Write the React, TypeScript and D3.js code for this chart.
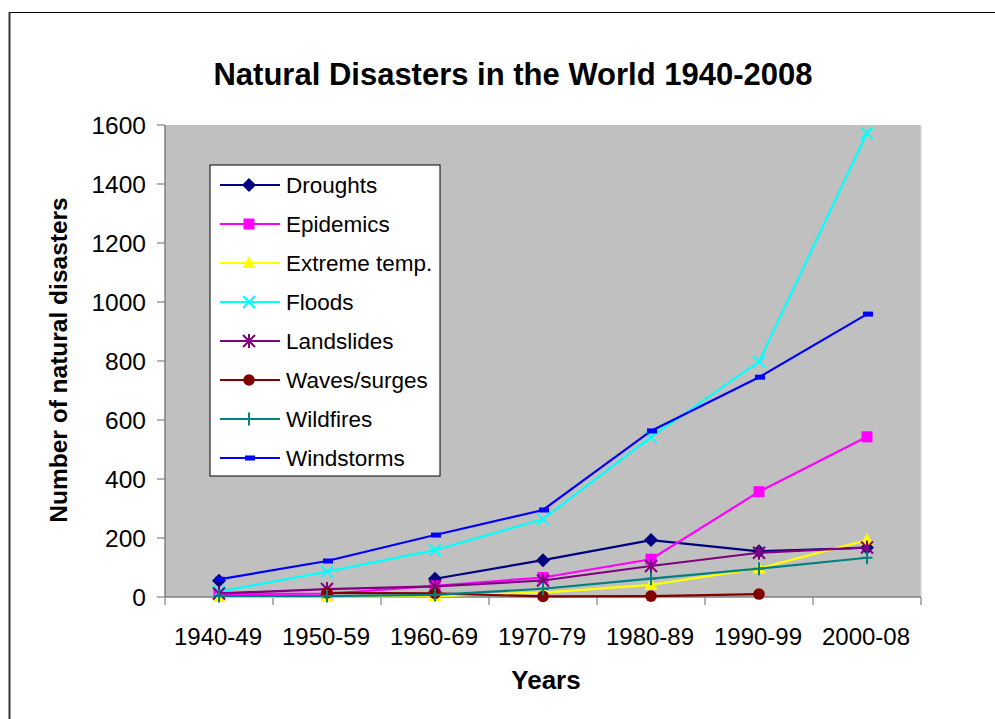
import React from "react";
import * as d3 from "d3";

// Decades on the x axis
const categories = ["1940-49", "1950-59", "1960-69", "1970-79", "1980-89", "1990-99", "2000-08"];

// Series values (null = no point)
const droughts = [55, null, 62, 125, 193, 155, 167];
const epidemics = [10, 11, 38, 66, 128, 357, 543];
const extremeTemp = [0, 1, 3, 15, 41, 97, 193];
const floods = [18, 86, 159, 264, 542, 798, 1573];
const landslides = [12, 27, 36, 56, 105, 150, 168];
const wavesSurges = [null, 14, 12, 2, 3, 10, null];
const wildfires = [3, 3, 7, 28, 62, 96, 133];
const windstorms = [60, 122, 210, 295, 563, 745, 959];

const yTicks = [0, 200, 400, 600, 800, 1000, 1200, 1400, 1600];

type Marker = "diamond" | "square" | "triangle" | "x" | "star" | "circle" | "plus" | "dash";

interface Series {
	name: string;
	values: (number | null)[];
	color: string;
	marker: Marker;
}

const series: Series[] = [
	{ name: "Droughts", values: droughts, color: "#000080", marker: "diamond" },
	{ name: "Epidemics", values: epidemics, color: "#FF00FF", marker: "square" },
	{ name: "Extreme temp.", values: extremeTemp, color: "#FFFF00", marker: "triangle" },
	{ name: "Floods", values: floods, color: "#00FFFF", marker: "x" },
	{ name: "Landslides", values: landslides, color: "#800080", marker: "star" },
	{ name: "Waves/surges", values: wavesSurges, color: "#800000", marker: "circle" },
	{ name: "Wildfires", values: wildfires, color: "#008080", marker: "plus" },
	{ name: "Windstorms", values: windstorms, color: "#0000FF", marker: "dash" },
];

const WIDTH = 995;
const HEIGHT = 719;
const plot = { left: 165, right: 921, top: 125, bottom: 597 };
const FONT = "'Liberation Sans', Arial, sans-serif";

const MarkerShape: React.FC<{ type: Marker; x: number; y: number; color: string }> = ({ type, x, y, color }) => {
	const r = 6;
	switch (type) {
		case "diamond":
			return <path d={`M${x},${y - 7}L${x + 7},${y}L${x},${y + 7}L${x - 7},${y}Z`} fill={color} />;
		case "square":
			return <rect x={x - 5.5} y={y - 5.5} width={11} height={11} fill={color} />;
		case "triangle":
			return <path d={`M${x},${y - 7}L${x + 6.5},${y + 5}L${x - 6.5},${y + 5}Z`} fill={color} />;
		case "x":
			return (
				<path
					d={`M${x - r},${y - r}L${x + r},${y + r}M${x - r},${y + r}L${x + r},${y - r}`}
					stroke={color}
					strokeWidth={2}
				/>
			);
		case "star":
			return (
				<path
					d={`M${x - r},${y - r}L${x + r},${y + r}M${x - r},${y + r}L${x + r},${y - r}M${x},${y - r - 1}L${x},${y + r + 1}`}
					stroke={color}
					strokeWidth={2}
				/>
			);
		case "circle":
			return <circle cx={x} cy={y} r={5.8} fill={color} />;
		case "plus":
			return (
				<path
					d={`M${x},${y - 6.5}L${x},${y + 6.5}M${x - 5.5},${y}L${x + 5.5},${y}`}
					stroke={color}
					strokeWidth={2}
				/>
			);
		case "dash":
			return <rect x={x - 4} y={y - 2.5} width={10} height={5} fill={color} />;
	}
	return null;
};

const App: React.FC = () => {
	const xScale = d3
		.scaleBand<string>()
		.domain(categories)
		.range([plot.left, plot.right])
		.paddingInner(0)
		.paddingOuter(0);

	const yScale = d3.scaleLinear().domain([0, 1600]).range([plot.bottom, plot.top]);

	const cx = (i: number) => (xScale(categories[i]) as number) + xScale.bandwidth() / 2;

	const line = d3
		.line<number | null>()
		.defined((d) => d !== null)
		.x((_, i) => cx(i))
		.y((d) => yScale(d as number));

	const bandEdges = [...categories.map((c) => xScale(c) as number), plot.right];

	const legend = { x: 210, y: 165, w: 230, h: 311, row: 39 };

	return (
		<div style={{ position: "absolute", left: 0, top: 0 }}>
			<svg width={WIDTH} height={HEIGHT} style={{ display: "block", fontFamily: FONT }}>
				<rect x={0} y={0} width={WIDTH} height={HEIGHT} fill="#FFFFFF" />
				{/* outer chart border */}
				<line x1={9} y1={12.5} x2={WIDTH} y2={12.5} stroke="#000" strokeWidth={1.2} />
				<line x1={9.5} y1={12} x2={9.5} y2={HEIGHT} stroke="#333" strokeWidth={2} />

				{/* title */}
				<text x={513} y={85} textAnchor="middle" fontSize={31} fontWeight="bold" fill="#000">
					Natural Disasters in the World 1940-2008
				</text>

				{/* plot area */}
				<rect
					x={plot.left}
					y={plot.top}
					width={plot.right - plot.left}
					height={plot.bottom - plot.top}
					fill="#C0C0C0"
				/>
				<line x1={plot.right} y1={plot.top} x2={plot.right} y2={plot.bottom} stroke="#D8D8D8" strokeWidth={1} />

				{/* y axis */}
				<line x1={plot.left} y1={plot.top} x2={plot.left} y2={plot.bottom} stroke="#808080" strokeWidth={1.5} />
				{yTicks.map((t) => (
					<g key={t}>
						<line x1={plot.left - 8} y1={yScale(t)} x2={plot.left} y2={yScale(t)} stroke="#808080" strokeWidth={1.2} />
						<text x={146} y={yScale(t) + 8.5} textAnchor="end" fontSize={24.5} fill="#000">
							{t}
						</text>
					</g>
				))}

				{/* x axis */}
				<line x1={plot.left} y1={plot.bottom} x2={plot.right} y2={plot.bottom} stroke="#808080" strokeWidth={1.5} />
				{bandEdges.map((e, i) => (
					<line key={i} x1={e} y1={plot.bottom} x2={e} y2={plot.bottom + 8} stroke="#808080" strokeWidth={1.2} />
				))}
				{categories.map((c, i) => (
					<text key={c} x={cx(i) - 1} y={645} textAnchor="middle" fontSize={24} fill="#000">
						{c}
					</text>
				))}

				{/* axis titles */}
				<text x={546} y={689} textAnchor="middle" fontSize={26} fontWeight="bold" fill="#000">
					Years
				</text>
				<text
					transform={`translate(67,360) rotate(-90)`}
					textAnchor="middle"
					fontSize={24.5}
					fontWeight="bold"
					fill="#000"
				>
					Number of natural disasters
				</text>

				{/* series */}
				{series.map((s) => (
					<g key={s.name}>
						<path d={line(s.values) ?? ""} fill="none" stroke={s.color} strokeWidth={2.2} />
						{s.values.map((v, i) =>
							v === null ? null : (
								<MarkerShape key={i} type={s.marker} x={cx(i)} y={yScale(v)} color={s.color} />
							)
						)}
					</g>
				))}

				{/* legend */}
				<rect x={legend.x} y={legend.y} width={legend.w} height={legend.h} fill="#FFFFFF" stroke="#000" strokeWidth={1} />
				{series.map((s, i) => {
					const y = legend.y + 20 + i * legend.row;
					return (
						<g key={s.name}>
							<line x1={220} y1={y} x2={280} y2={y} stroke={s.color} strokeWidth={2.2} />
							<MarkerShape type={s.marker} x={249} y={y} color={s.color} />
							<text x={286} y={y + 8} fontSize={22.5} fill="#000">
								{s.name}
							</text>
						</g>
					);
				})}
			</svg>
		</div>
	);
};

export default App;
